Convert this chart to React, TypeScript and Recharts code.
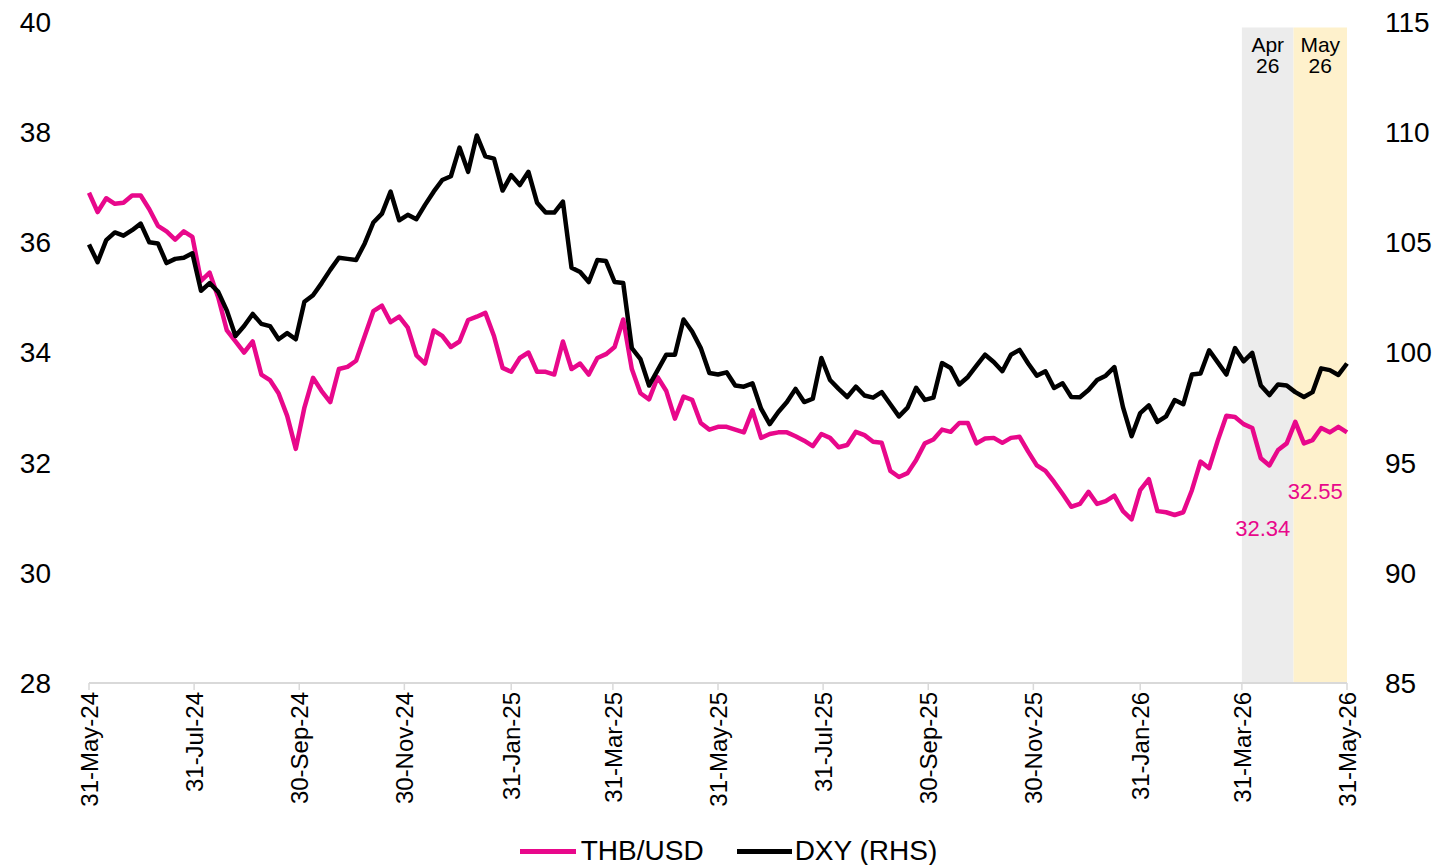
import React from 'react';
import { LineChart, Line, XAxis, YAxis, ReferenceArea, Legend } from 'recharts';

// one reading every 5 days, starting 31-May-24
const STEP_DAYS = 5;

const thbUsd = [
  36.9, 36.55, 36.8, 36.7, 36.72, 36.85, 36.85, 36.6, 36.3, 36.2,
  36.05, 36.2, 36.1, 35.3, 35.45, 35.0, 34.4, 34.2, 34.0, 34.2,
  33.6, 33.5, 33.26, 32.85, 32.25, 33.0, 33.54, 33.3, 33.1, 33.7,
  33.74, 33.85, 34.3, 34.75, 34.85, 34.55, 34.65, 34.45, 33.95, 33.8,
  34.4, 34.3, 34.1, 34.2, 34.59, 34.65, 34.72, 34.3, 33.72, 33.65,
  33.9, 34.0, 33.65, 33.65, 33.6, 34.2, 33.7, 33.8, 33.6, 33.9,
  33.97, 34.1, 34.6, 33.7, 33.26, 33.15, 33.55, 33.3, 32.8, 33.2,
  33.14, 32.72, 32.6, 32.65, 32.65, 32.6, 32.55, 32.95, 32.45, 32.52,
  32.55, 32.55, 32.48, 32.4, 32.3, 32.52, 32.45, 32.28, 32.32, 32.56,
  32.5, 32.38, 32.36, 31.85, 31.74, 31.81, 32.05, 32.35, 32.42, 32.6,
  32.56, 32.72, 32.72, 32.35, 32.44, 32.45, 32.36, 32.45, 32.47, 32.2,
  31.95, 31.85, 31.65, 31.43, 31.2, 31.25, 31.47, 31.25, 31.3, 31.4,
  31.12, 30.97, 31.5, 31.7, 31.12, 31.1, 31.05, 31.1, 31.5, 32.02,
  31.9, 32.4, 32.85, 32.83, 32.7, 32.63, 32.08, 31.95, 32.23, 32.35,
  32.74, 32.35, 32.41, 32.63, 32.55, 32.65, 32.55,
];

const dxy = [
  104.9, 104.1, 105.1, 105.45, 105.3, 105.55, 105.85, 105.0, 104.95, 104.06,
  104.25, 104.3, 104.5, 102.8, 103.15, 102.75, 101.9, 100.75, 101.2, 101.75,
  101.3, 101.2, 100.6, 100.88, 100.6, 102.3, 102.6, 103.15, 103.75, 104.3,
  104.25, 104.2, 104.95, 105.9, 106.3, 107.3, 106.0, 106.25, 106.05, 106.7,
  107.3, 107.83, 108.0, 109.3, 108.2, 109.85, 108.9, 108.8, 107.35, 108.05,
  107.6, 108.2, 106.8, 106.35, 106.35, 106.85, 103.85, 103.65, 103.2, 104.2,
  104.15, 103.2, 103.15, 100.2, 99.7, 98.5, 99.2, 99.9, 99.9, 101.5,
  100.95, 100.2, 99.07, 99.0, 99.1, 98.5, 98.45, 98.6, 97.45, 96.75,
  97.3, 97.75, 98.35, 97.75, 97.9, 99.75, 98.75, 98.35, 97.98, 98.45,
  98.05, 97.95, 98.2, 97.65, 97.1, 97.5, 98.4, 97.85, 97.95, 99.52,
  99.3, 98.55, 98.89, 99.4, 99.9, 99.57, 99.15, 99.9, 100.12, 99.5,
  98.95, 99.15, 98.39, 98.6, 97.98, 97.97, 98.3, 98.75, 98.95, 99.34,
  97.52, 96.2, 97.25, 97.6, 96.85, 97.1, 97.84, 97.65, 99.0, 99.05,
  100.1, 99.55, 99.0, 100.2, 99.6, 99.98, 98.5, 98.07, 98.55, 98.5,
  98.2, 97.98, 98.2, 99.28, 99.2, 98.98, 99.5,
];

// days since 31-May-24
const tickDays = [0, 61, 122, 183, 245, 304, 365, 426, 487, 548, 610, 669, 730];
const tickLabels = [
  '31-May-24', '31-Jul-24', '30-Sep-24', '30-Nov-24', '31-Jan-25', '31-Mar-25',
  '31-May-25', '31-Jul-25', '30-Sep-25', '30-Nov-25', '31-Jan-26', '31-Mar-26', '31-May-26',
];

const leftTicks = [28, 30, 32, 34, 36, 38, 40];
const rightTicks = [85, 90, 95, 100, 105, 110, 115];

// highlighted months
const periodNames = ['Apr', 'May'];
const periodStart = [669, 699];
const periodEnd = [699, 730];
const periodValues = ['32.34', '32.55'];

const periodFills = ['#ececec', '#fef1cc'];
const valueOffsets = [147, 184]; // px above x axis
const valueShift = [-5, -5];

const PINK = '#e8088b';
const FONT = '"Liberation Sans", Arial, Helvetica, sans-serif';

const data = thbUsd.map((v, i) => ({ day: i * STEP_DAYS, thb: v, dxy: dxy[i] }));

const DateTick = (props: any) => {
  const { x, y, payload } = props;
  const idx = tickDays.indexOf(payload.value);
  return (
    <g transform={`translate(${x},${y})`}>
      <text
        x={0}
        y={0}
        dy="0.36em"
        textAnchor="end"
        transform="rotate(-90)"
        fontSize={24}
        fontFamily={FONT}
        fill="#000"
      >
        {idx >= 0 ? tickLabels[idx] : ''}
      </text>
    </g>
  );
};

const periodLabel = (i: number) => (props: any) => {
  const { x, y, width, height } = props.viewBox;
  const cx = x + width / 2;
  return (
    <g fontFamily={FONT}>
      <text x={cx} y={y + 24} textAnchor="middle" fontSize={21} fill="#000">
        {periodNames[i]}
      </text>
      <text x={cx} y={y + 45} textAnchor="middle" fontSize={21} fill="#000">
        26
      </text>
      <text
        x={cx + valueShift[i]}
        y={y + height - valueOffsets[i]}
        textAnchor="middle"
        fontSize={22}
        fill={PINK}
      >
        {periodValues[i]}
      </text>
    </g>
  );
};

const renderLegend = () => (
  <div
    style={{
      display: 'flex',
      justifyContent: 'center',
      alignItems: 'center',
      height: 40,
      paddingLeft: 24,
      fontFamily: FONT,
      fontSize: 28,
      color: '#000',
    }}
  >
    <span style={{ width: 56, height: 5, background: PINK, marginRight: 5 }} />
    <span style={{ marginRight: 33 }}>THB/USD</span>
    <span style={{ width: 55, height: 5, background: '#000', marginRight: 3 }} />
    <span>DXY (RHS)</span>
  </div>
);

export default function App() {
  return (
    <div
      style={{
        position: 'absolute',
        left: 0,
        top: 0,
        width: 1433,
        height: 865,
        background: '#fff',
        overflow: 'hidden',
      }}
    >
      <LineChart
        width={1433}
        height={865}
        data={data}
        margin={{ top: 22, right: 0, bottom: 0, left: 0 }}
      >
        <XAxis
          dataKey="day"
          type="number"
          domain={[0, 730]}
          ticks={tickDays}
          interval={0}
          height={142}
          axisLine={{ stroke: '#d9d9d9', strokeWidth: 2 }}
          tickLine={{ stroke: '#d9d9d9', strokeWidth: 1.5 }}
          tickSize={7}
          tickMargin={2}
          tick={<DateTick />}
        />
        <YAxis
          yAxisId="left"
          domain={[28, 40]}
          ticks={leftTicks}
          width={89}
          axisLine={false}
          tickLine={false}
          tickMargin={32}
          tick={{ fontSize: 28, fill: '#000', fontFamily: FONT }}
        />
        <YAxis
          yAxisId="right"
          orientation="right"
          domain={[85, 115]}
          ticks={rightTicks}
          width={86}
          axisLine={false}
          tickLine={false}
          tickMargin={32}
          tick={{ fontSize: 28, fill: '#000', fontFamily: FONT, textAnchor: 'start' }}
        />

        {periodNames.map((name, i) => (
          <ReferenceArea
            key={name}
            yAxisId="left"
            x1={periodStart[i]}
            x2={periodEnd[i]}
            y1={28}
            y2={39.9}
            fill={periodFills[i]}
            fillOpacity={1}
            stroke="none"
            ifOverflow="visible"
            label={periodLabel(i)}
          />
        ))}

        <Legend
          verticalAlign="bottom"
          align="center"
          content={renderLegend}
          wrapperStyle={{ bottom: -6, left: 0, width: 1433 }}
        />

        <Line
          yAxisId="left"
          dataKey="thb"
          name="THB/USD"
          type="linear"
          stroke={PINK}
          strokeWidth={4.5}
          strokeLinejoin="round"
          dot={false}
          isAnimationActive={false}
        />
        <Line
          yAxisId="right"
          dataKey="dxy"
          name="DXY (RHS)"
          type="linear"
          stroke="#000"
          strokeWidth={4.5}
          strokeLinejoin="round"
          dot={false}
          isAnimationActive={false}
        />
      </LineChart>
    </div>
  );
}
